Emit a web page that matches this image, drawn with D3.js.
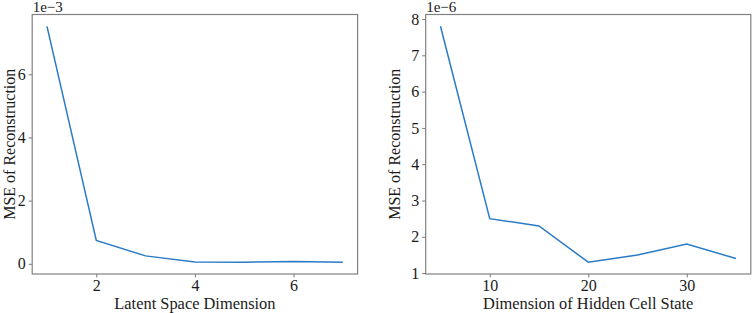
<!DOCTYPE html>
<html><head><meta charset="utf-8">
<script src="https://cdn.jsdelivr.net/npm/d3@7"></script>
<style>body{margin:0;background:#fff}svg{display:block}text{font-family:"Liberation Serif","Times New Roman",serif;fill:#1a1a1a}</style>
</head><body><svg id="c" width="754" height="313"></svg>
<script>
const latentDims = [1, 2, 3, 4, 5, 6, 7];
const latentMSE = [7.52, 0.74, 0.25, 0.06, 0.05, 0.07, 0.05]; // x 1e-3
const hiddenDims = [5, 10, 15, 20, 25, 30, 35];
const hiddenMSE = [7.8, 2.5, 2.3, 1.3, 1.5, 1.8, 1.4]; // x 1e-6
const leftXTicks = [2, 4, 6];
const leftYTicks = [0, 2, 4, 6];
const rightXTicks = [10, 20, 30];
const rightYTicks = [1, 2, 3, 4, 5, 6, 7, 8];

const svg = d3.select('#c');
function pad(arr){const [a,b]=d3.extent(arr);const m=(b-a)*0.05;return [a-m,b+m];}

function panel(o){
  const g = svg.append('g');
  const x = d3.scaleLinear().domain(pad(o.xs)).range([o.x0, o.x1]);
  const y = d3.scaleLinear().domain(pad(o.ys)).range([o.y1, o.y0]);
  const xa = g.append('g').attr('transform',`translate(0,${o.y1})`)
    .call(d3.axisBottom(x).tickValues(o.xt).tickSize(3.5).tickPadding(2.5).tickFormat(d3.format('d')));
  const ya = g.append('g').attr('transform',`translate(${o.x0},0)`)
    .call(d3.axisLeft(y).tickValues(o.yt).tickSize(3.5).tickPadding(3).tickFormat(d3.format('d')));
  [xa,ya].forEach(a=>{a.select('.domain').remove();a.selectAll('line').attr('stroke','#777').attr('stroke-width',1);
    a.selectAll('text').attr('font-size',16).attr('font-family','Liberation Serif').attr('fill','#1a1a1a');});
  g.append('path').datum(o.xs.map((d,i)=>[d,o.ys[i]]))
    .attr('d', d3.line().x(d=>x(d[0])).y(d=>y(d[1])))
    .attr('fill','none').attr('stroke','#2a7bc6').attr('stroke-width',1.5);
  g.append('rect').attr('x',o.x0).attr('y',o.y0).attr('width',o.x1-o.x0).attr('height',o.y1-o.y0)
    .attr('fill','none').attr('stroke','#808080').attr('stroke-width',1.2);
  g.append('text').attr('x',o.x0+0.5).attr('y',o.y0-2.5).attr('font-size',15).text(o.off);
  g.append('text').attr('x',(o.x0+o.x1)/2).attr('y',308.5).attr('text-anchor','middle').attr('font-size',16.4).text(o.xl);
  g.append('text').attr('transform',`translate(${o.ylx},${(o.y0+o.y1)/2}) rotate(-90)`).attr('text-anchor','middle').attr('font-size',16).text(o.yl);
}
panel({xs:latentDims,ys:latentMSE,xt:leftXTicks,yt:leftYTicks,x0:32.2,x1:357.6,y0:14.5,y1:274,
  off:'1e\u22123',xl:'Latent Space Dimension',yl:'MSE of Reconstruction',ylx:14.5});
panel({xs:hiddenDims,ys:hiddenMSE,xt:rightXTicks,yt:rightYTicks,x0:425.7,x1:750.8,y0:14.5,y1:274,
  off:'1e\u22126',xl:'Dimension of Hidden Cell State',yl:'MSE of Reconstruction',ylx:400});
</script></body></html>
